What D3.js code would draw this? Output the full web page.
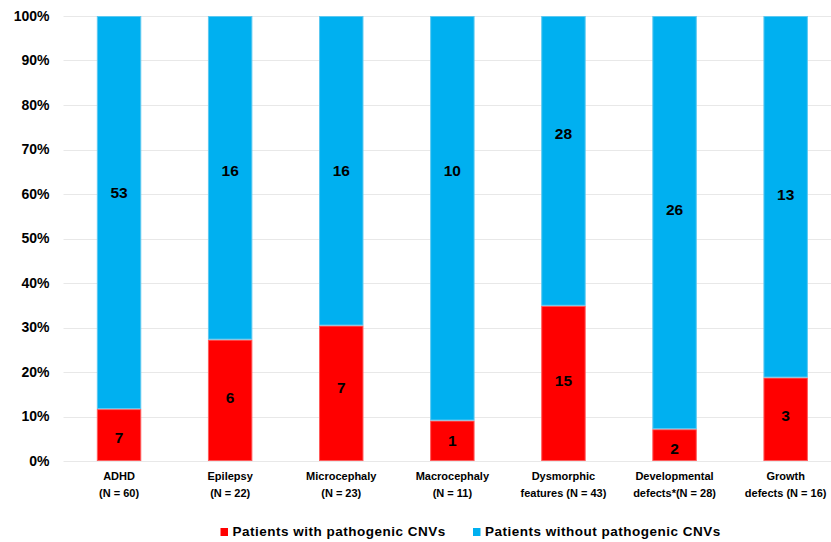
<!DOCTYPE html>
<html>
<head>
<meta charset="utf-8">
<script src="https://cdn.jsdelivr.net/npm/d3@7"></script>
<style>
  html, body { margin: 0; padding: 0; background: #fff; }
  svg { display: block; font-family: "Liberation Sans", Arial, sans-serif; }
</style>
</head>
<body>
<svg id="chart" width="831" height="542"></svg>
<script>
// Patients per phenotype group, split by presence of pathogenic CNVs
const categories = ["ADHD", "Epilepsy", "Microcephaly", "Macrocephaly", "Dysmorphic features", "Developmental defects*", "Growth defects"];
const labelLine1 = ["ADHD", "Epilepsy", "Microcephaly", "Macrocephaly", "Dysmorphic", "Developmental", "Growth"];
const labelLine2 = ["(N = 60)", "(N = 22)", "(N = 23)", "(N = 11)", "features (N = 43)", "defects*(N = 28)", "defects (N = 16)"];
const withCNV = [7, 6, 7, 1, 15, 2, 3];
const withoutCNV = [53, 16, 16, 10, 28, 26, 13];
const seriesNames = ["Patients with pathogenic CNVs", "Patients without pathogenic CNVs"];
const seriesColors = ["#ff0000", "#00b0f0"];
const yTicks = [0, 0.1, 0.2, 0.3, 0.4, 0.5, 0.6, 0.7, 0.8, 0.9, 1];
// Where each count label sits, as a share of the bar (value-axis units)
const labelAtWith = [0.054, 0.142, 0.166, 0.047, 0.18, 0.029, 0.103];
const labelAtWithout = [0.603, 0.654, 0.654, 0.652, 0.737, 0.566, 0.600];

const svg = d3.select("#chart");
const plotLeft = 63.5, plotTop = 16, plotBottom = 461;
const step = 111.1;

const x = d3.scaleBand()
  .domain(categories)
  .range([plotLeft, plotLeft + step * categories.length])
  .paddingInner(0.6)
  .paddingOuter(0.3);

const y = d3.scaleLinear().domain([0, 1]).range([plotBottom, plotTop]);

// Horizontal gridlines
svg.append("g")
  .selectAll("line")
  .data(yTicks)
  .join("line")
  .attr("x1", plotLeft)
  .attr("x2", 831)
  .attr("y1", d => Math.round(y(d)) + 0.5)
  .attr("y2", d => Math.round(y(d)) + 0.5)
  .attr("stroke", "#e8e8e8")
  .attr("stroke-width", 1);

// Y axis labels
const yAxis = d3.axisLeft(y).tickValues(yTicks).tickFormat(d3.format(".0%")).tickSize(0).tickPadding(14);
const yg = svg.append("g").attr("transform", `translate(${plotLeft},0)`).call(yAxis);
yg.select(".domain").remove();
yg.selectAll("text")
  .attr("font-size", 14)
  .attr("font-weight", "bold")
  .attr("fill", "#000")
  .attr("font-family", "'Liberation Sans', Arial, sans-serif");

// Stacked percentage data
const segs = [];
categories.forEach((c, i) => {
  const vals = [withCNV[i], withoutCNV[i]];
  const labelAt = [labelAtWith[i], labelAtWithout[i]];
  const total = vals[0] + vals[1];
  let acc = 0;
  vals.forEach((v, k) => {
    const y0 = acc / total;
    acc += v;
    const y1 = acc / total;
    segs.push({ cat: c, k, v, y0, y1, at: labelAt[k] });
  });
});

svg.append("g")
  .selectAll("rect")
  .data(segs)
  .join("rect")
  .attr("x", d => x(d.cat) + 0.5)
  .attr("width", x.bandwidth() - 1)
  .attr("y", d => y(d.y1) + 0.5)
  .attr("height", d => y(d.y0) - y(d.y1) - 1)
  .attr("fill", d => seriesColors[d.k])
  .attr("stroke", d => d.k === 0 ? "#ff5a5a" : "#5cc8f0")
  .attr("stroke-width", 1);

// Count labels inside each segment
svg.append("g")
  .selectAll("text")
  .data(segs)
  .join("text")
  .attr("x", d => x(d.cat) + x.bandwidth() / 2)
  .attr("y", d => y(d.at))
  .attr("dy", "0.36em")
  .attr("text-anchor", "middle")
  .attr("font-size", 15.5)
  .attr("font-weight", "bold")
  .attr("fill", "#000")
  .text(d => d.v);

// Category labels (two lines)
const cg = svg.append("g");
categories.forEach((c, i) => {
  const cx = x(c) + x.bandwidth() / 2;
  const t = cg.append("text")
    .attr("text-anchor", "middle")
    .attr("font-size", 11)
    .attr("font-weight", "bold")
    .attr("fill", "#000");
  t.append("tspan").attr("x", cx).attr("y", 480).text(labelLine1[i]);
  t.append("tspan").attr("x", cx).attr("y", 497).text(labelLine2[i]);
});

// Legend
const legendItems = [
  { name: seriesNames[0], color: seriesColors[0], x: 220.5 },
  { name: seriesNames[1], color: seriesColors[1], x: 473 }
];
const lg = svg.append("g");
legendItems.forEach(it => {
  lg.append("rect").attr("x", it.x).attr("y", 528).attr("width", 7.5).attr("height", 8).attr("fill", it.color);
  lg.append("text")
    .attr("x", it.x + 12)
    .attr("y", 536)
    .attr("font-size", 13.5)
    .attr("font-weight", "bold")
    .attr("letter-spacing", 0.5)
    .attr("fill", "#000")
    .text(it.name);
});
</script>
</body>
</html>
